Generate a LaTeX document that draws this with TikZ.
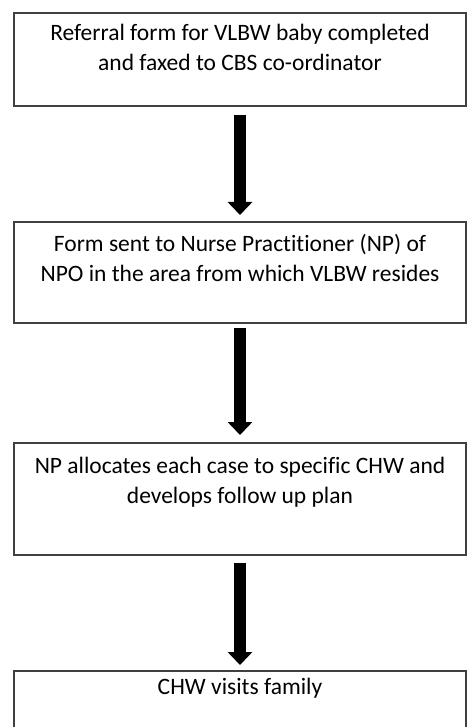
\documentclass[tikz,border=0pt]{standalone}
\usepackage{fontspec}
\setmainfont[Ligatures=NoCommon]{Carlito}
\usetikzlibrary{arrows.meta,calc}
\begin{document}
\begin{tikzpicture}[x=1pt,y=-1pt,
  flowbox/.style={draw=black!75, line width=1.3pt, fill=white, anchor=north west, inner sep=0pt, outer sep=0pt},
  lbl/.style={font=\fontsize{23.5}{30}\selectfont, align=center, anchor=base, inner sep=0pt},
  flowarrow/.style={line width=12pt, -{Triangle[width=24pt,length=13pt]}, black}
]
\useasboundingbox (0,0) rectangle (466,727);
\node[flowbox, minimum width=452pt, minimum height=93pt] (b1) at (14,13) {};
\node[flowbox, minimum width=452pt, minimum height=101pt] (b2) at (14,222) {};
\node[flowbox, minimum width=452pt, minimum height=112pt] (b3) at (14,443) {};
\node[flowbox, minimum width=452pt, minimum height=80pt] (b4) at (14,671) {};
\node[lbl] (t1) at ($(b1.north)+(0,58)$) {Referral form for VLBW baby completed\\and faxed to CBS co-ordinator};
\node[lbl] (t2) at ($(b2.north)+(0,59)$) {Form sent to Nurse Pract\kern0pt it\kern0pt ioner (NP) of\\NPO in the area from which VLBW resides};
\node[lbl] (t3) at ($(b3.north)+(0,60)$) {NP allocates each case to specific CHW and\\develops follow up plan};
\node[lbl] (t4) at ($(b4.north)+(0,23)$) {CHW visits family};
\draw[flowarrow, shorten <=9pt, shorten >=7pt] (b1.south) -- (b2.north);
\draw[flowarrow, shorten <=5pt, shorten >=8pt] (b2.south) -- (b3.north);
\draw[flowarrow, shorten <=8pt, shorten >=6pt] (b3.south) -- (b4.north);
\end{tikzpicture}
\end{document}
